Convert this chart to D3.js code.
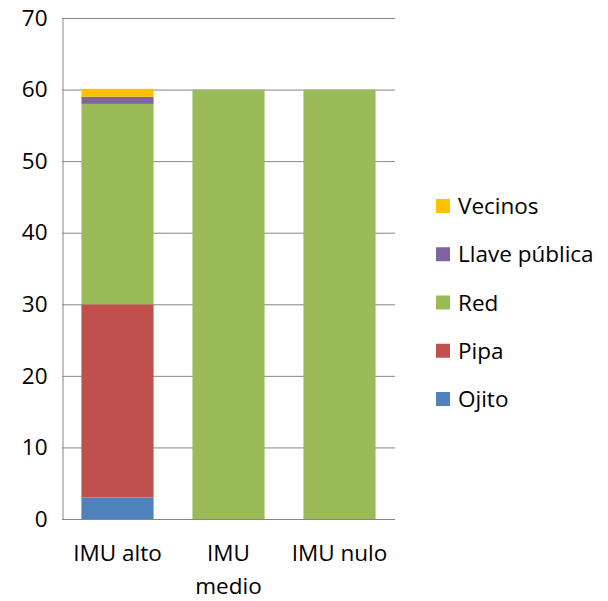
<!DOCTYPE html>
<html>
<head>
<meta charset="utf-8">
<script src="https://cdn.jsdelivr.net/npm/d3@7"></script>
<style>
  body { margin: 0; background: #fff; }
  text { font-family: "Open Sans", sans-serif; fill: #000; }
</style>
</head>
<body>
<svg width="608" height="601"></svg>
<script>
const categories = ["IMU alto", "IMU medio", "IMU nulo"];
const seriesNames = ["Ojito", "Pipa", "Red", "Llave pública", "Vecinos"];
const seriesColors = ["#4f81bd", "#c0504d", "#9bbb59", "#8064a2", "#ffc000"];
const ojito = [3, 0, 0];
const pipa = [27, 0, 0];
const red = [28, 60, 60];
const llave = [1, 0, 0];
const vecinos = [1.1, 0, 0];
const yTicks = [0, 10, 20, 30, 40, 50, 60, 70];

const values = [ojito, pipa, red, llave, vecinos];

const plotLeft = 62, plotRight = 395, plotTop = 18, plotBottom = 519;
const fontSize = "22.5px";

const svg = d3.select("svg");

const x = d3.scaleBand()
    .domain(categories)
    .range([plotLeft, plotRight])
    .paddingInner(0.35)
    .paddingOuter(0.175);

const y = d3.scaleLinear()
    .domain([0, 70])
    .range([plotBottom, plotTop]);

// gridlines
svg.append("g")
    .selectAll("line")
    .data(yTicks)
    .enter().append("line")
    .attr("x1", plotLeft)
    .attr("x2", plotRight)
    .attr("y1", d => y(d) + 0.5)
    .attr("y2", d => y(d) + 0.5)
    .attr("stroke", "#868686")
    .attr("stroke-width", 1);

// stacked bars
const rows = categories.map((c, i) => {
    const r = { cat: c };
    seriesNames.forEach((s, j) => r[s] = values[j][i]);
    return r;
});
const stacked = d3.stack().keys(seriesNames)(rows);

svg.append("g")
    .selectAll("g")
    .data(stacked)
    .enter().append("g")
    .attr("fill", (d, i) => seriesColors[i])
    .selectAll("rect")
    .data(d => d.filter(p => p[1] > p[0]))
    .enter().append("rect")
    .attr("x", d => x(d.data.cat))
    .attr("width", x.bandwidth())
    .attr("y", d => y(d[1]))
    .attr("height", d => y(d[0]) - y(d[1]));

// y axis
const yAxis = d3.axisLeft(y).tickValues(yTicks).tickSize(0).tickPadding(15);
const ya = svg.append("g")
    .attr("transform", `translate(${plotLeft + 0.5},0)`)
    .call(yAxis);
ya.select(".domain").attr("stroke", "#868686");
ya.selectAll("text").style("font-size", fontSize).style("font-family", "'Open Sans', sans-serif");

// x axis baseline
svg.append("line")
    .attr("x1", plotLeft)
    .attr("x2", plotRight)
    .attr("y1", plotBottom + 0.5)
    .attr("y2", plotBottom + 0.5)
    .attr("stroke", "#868686");

// category labels
const catLabels = { "IMU medio": ["IMU", "medio"] };
svg.append("g")
    .selectAll("text")
    .data(categories)
    .enter().append("text")
    .attr("x", d => x(d) + x.bandwidth() / 2)
    .attr("y", 561)
    .attr("text-anchor", "middle")
    .style("font-size", fontSize)
    .each(function(d) {
        const lines = catLabels[d] || [d];
        d3.select(this).selectAll("tspan")
            .data(lines)
            .enter().append("tspan")
            .attr("x", x(d) + x.bandwidth() / 2)
            .attr("dy", (l, i) => i === 0 ? 0 : 33)
            .text(l => l);
    });

// legend (reversed order)
const legendItems = seriesNames.map((s, i) => ({ name: s, color: seriesColors[i] })).reverse();
const legend = svg.append("g")
    .selectAll("g")
    .data(legendItems)
    .enter().append("g")
    .attr("transform", (d, i) => `translate(436,${199 + i * 48.25})`);

legend.append("rect")
    .attr("width", 14)
    .attr("height", 14)
    .attr("fill", d => d.color);

legend.append("text")
    .attr("x", 22)
    .attr("y", 15)
    .style("font-size", fontSize)
    .text(d => d.name);
</script>
</body>
</html>
